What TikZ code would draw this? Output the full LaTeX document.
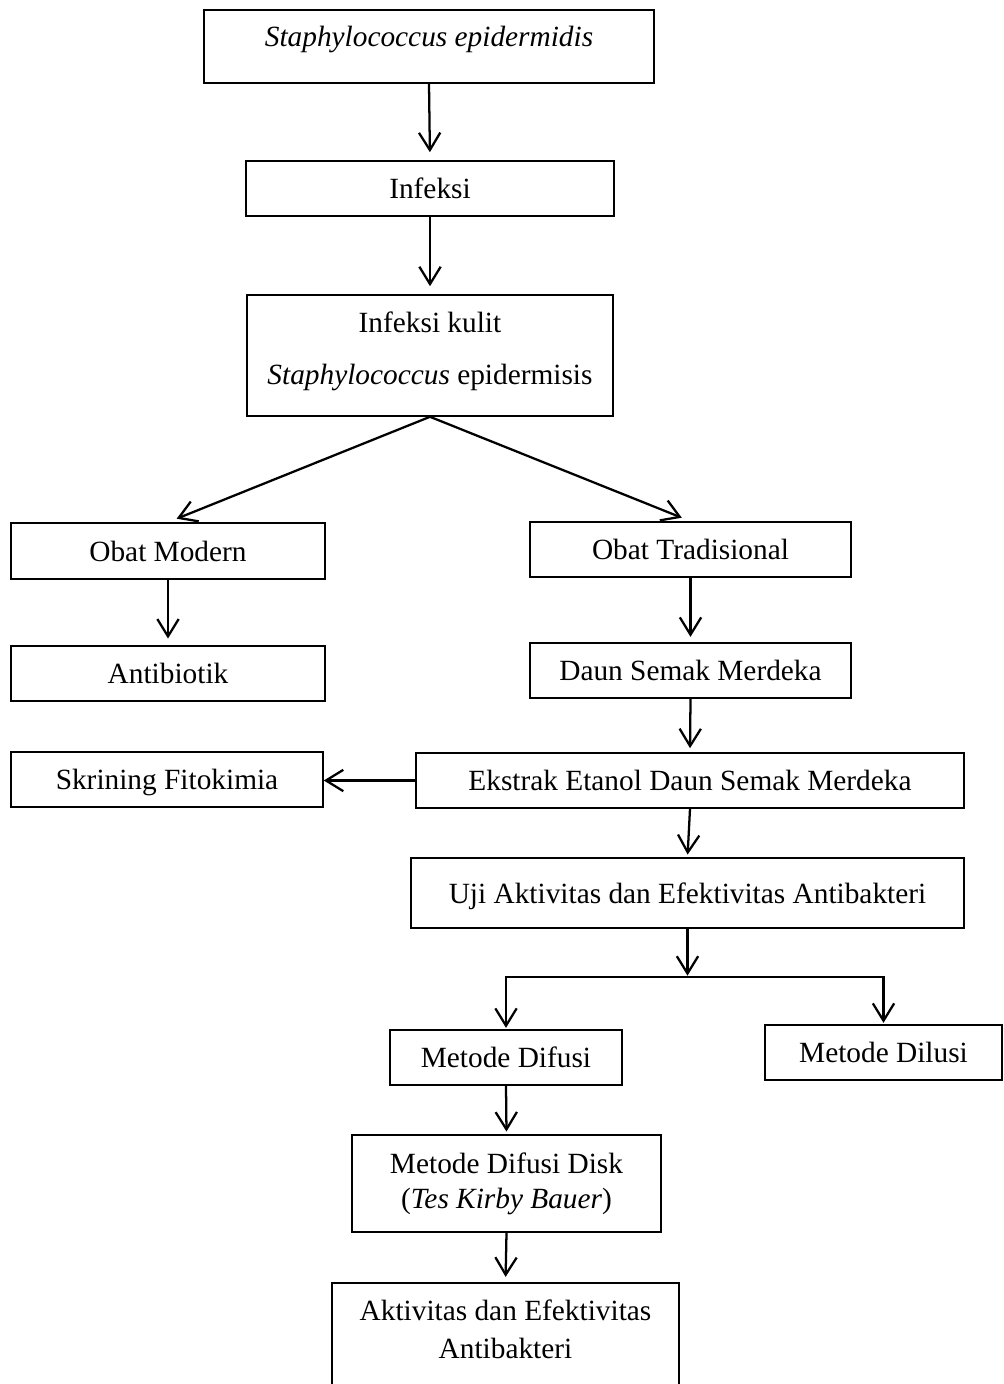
\documentclass[tikz,border=0pt]{standalone}
\usepackage{fontspec}
\setmainfont{Liberation Serif}
\usetikzlibrary{arrows.meta}

\tikzset{
  kotak/.style={draw, line width=1.2pt, inner sep=0pt, align=center, font=\fontsize{22}{26}\selectfont, minimum height=41.25pt},
  tunggal/.style={text height=18.5pt, text depth=3.5pt},
  panah/.style={line width=1.7pt, -{Straight Barb[length=13pt,width=16pt]}, shorten >=3pt},
  garis/.style={line width=1.7pt, line cap=rect}
}

\begin{document}
\begin{tikzpicture}[x=0.75pt,y=0.75pt,yscale=-1,xscale=1]
\useasboundingbox (0,0) rectangle (1003,1384);
\node [kotak, minimum width=337.5pt, minimum height=54.75pt, text height=27.375pt, text depth=27.375pt] (staph) at (429,46.5) {\textit{Staphylococcus epidermidis}};
\node [kotak, tunggal, minimum width=276pt] (infeksi) at (430,188.5) {Infeksi};
\node [kotak, minimum width=274.5pt, minimum height=90.75pt, text height=47.5pt, text depth=43.25pt] (kulit) at (430,355.5) {\begin{tabular}{@{}c@{}}Infeksi kulit\\[13pt]\textit{Staphylococcus} epidermisis\end{tabular}};
\node [kotak, tunggal, minimum width=235.5pt, minimum height=42pt] (modern) at (168,551) {Obat Modern};
\node [kotak, tunggal, minimum width=240.75pt] (tradisional) at (690.5,549.5) {Obat Tradisional};
\node [kotak, tunggal, minimum width=235.5pt] (antibiotik) at (168,673.5) {Antibiotik};
\node [kotak, tunggal, minimum width=240.75pt] (daun) at (690.5,670.5) {Daun Semak Merdeka};
\node [kotak, tunggal, minimum width=234pt] (skrining) at (167,779.5) {Skrining Fitokimia};
\node [kotak, tunggal, minimum width=411pt] (ekstrak) at (690,780.5) {Ekstrak Etanol Daun Semak Merdeka};
\node [kotak, tunggal, minimum width=414.75pt, minimum height=52.5pt] (uji) at (687.5,893) {Uji Aktivitas dan Efektivitas Antibakteri};
\node [kotak, tunggal, minimum width=174pt] (difusi) at (506,1057.5) {Metode Difusi};
\node [kotak, tunggal, minimum width=177.75pt] (dilusi) at (883.5,1052.5) {Metode Dilusi};
\node [kotak, minimum width=231.75pt, minimum height=72.75pt] (disk) at (506.5,1183.5) {Metode Difusi Disk\\(\textit{Tes Kirby Bauer})};
\node [kotak, minimum width=260.25pt, minimum height=84pt, text height=42pt, text depth=42pt] (aktivitas) at (505.5,1339) {\begin{tabular}{@{}c@{}}Aktivitas dan Efektivitas\\[2.5pt]Antibakteri\end{tabular}};
\coordinate (cabang) at (688,977);

\draw [panah, shorten >=6pt] (staph.south) -- (infeksi.north);
\draw [panah, shorten >=6pt] (infeksi.south) -- (kulit.north);
\draw [panah, shorten >=7pt] (kulit.south) -- (modern.north);
\draw [panah, shorten >=7pt] (kulit.south) -- (tradisional.north);
\draw [panah, shorten >=5pt] (modern.south) -- (antibiotik.north);
\draw [panah, shorten >=4pt] (tradisional.south) -- (daun.north);
\draw [panah] (daun.south) -- (ekstrak.north);
\draw [panah, shorten >=0pt] (ekstrak.west) -- (ekstrak.west -| skrining.east);
\draw [panah, shorten >=2pt] (ekstrak.south) -- (uji.north);
\draw [panah, shorten >=1pt] (uji.south) -- (uji.south |- cabang);
\draw [garis] (difusi.north |- cabang) -- (dilusi.north |- cabang);
\draw [panah, shorten >=1pt] (difusi.north |- cabang) -- (difusi.north);
\draw [panah, shorten >=1pt] (dilusi.north |- cabang) -- (dilusi.north);
\draw [panah, shorten >=2pt] (difusi.south) -- (disk.north);
\draw [panah, shorten >=4pt] (disk.south) -- (aktivitas.north);
\end{tikzpicture}
\end{document}
